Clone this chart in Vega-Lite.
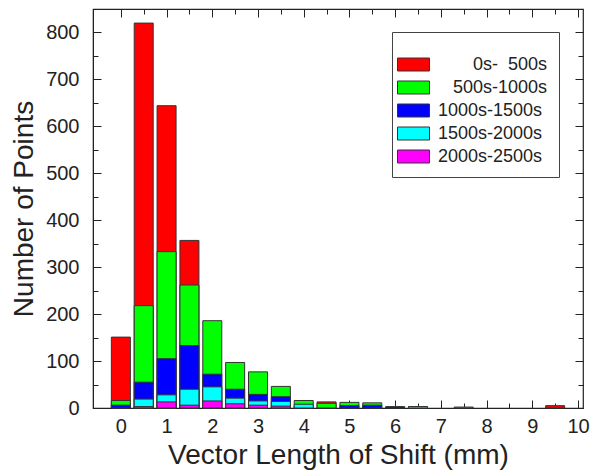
{
  "$schema": "https://vega.github.io/schema/vega-lite/v6.json",
  "autosize": {"type": "none"},
  "width": 490,
  "height": 399,
  "padding": {"left": 93, "top": 9, "right": 13, "bottom": 64},
  "background": "white",
  "config": {
    "view": {"stroke": "#222", "strokeWidth": 1.2},
    "font": "Liberation Sans",
    "axis": {"grid": false, "domainColor": "#222", "tickColor": "#222", "labelColor": "#222", "titleColor": "#222", "labelFont": "Liberation Sans", "titleFont": "Liberation Sans", "titleFontWeight": "normal", "labelFontSize": 20, "titleFontSize": 28, "zindex": 1}
  },
  "data": {
    "values": [
      {"x": 0, "p": "0s-500s", "n": 151},
      {"x": 0.5, "p": "0s-500s", "n": 820},
      {"x": 1, "p": "0s-500s", "n": 644},
      {"x": 1.5, "p": "0s-500s", "n": 357},
      {"x": 4.5, "p": "0s-500s", "n": 13},
      {"x": 9.5, "p": "0s-500s", "n": 5},
      {"x": 0, "p": "500s-1000s", "n": 16},
      {"x": 0.5, "p": "500s-1000s", "n": 218},
      {"x": 1, "p": "500s-1000s", "n": 333},
      {"x": 1.5, "p": "500s-1000s", "n": 262},
      {"x": 2, "p": "500s-1000s", "n": 186},
      {"x": 2.5, "p": "500s-1000s", "n": 97},
      {"x": 3, "p": "500s-1000s", "n": 77},
      {"x": 3.5, "p": "500s-1000s", "n": 46},
      {"x": 4, "p": "500s-1000s", "n": 16},
      {"x": 4.5, "p": "500s-1000s", "n": 10},
      {"x": 5, "p": "500s-1000s", "n": 12},
      {"x": 5.5, "p": "500s-1000s", "n": 11},
      {"x": 6.5, "p": "500s-1000s", "n": 3},
      {"x": 7.5, "p": "500s-1000s", "n": 2},
      {"x": 0, "p": "1000s-1500s", "n": 6},
      {"x": 0.5, "p": "1000s-1500s", "n": 55},
      {"x": 1, "p": "1000s-1500s", "n": 105},
      {"x": 1.5, "p": "1000s-1500s", "n": 133},
      {"x": 2, "p": "1000s-1500s", "n": 72},
      {"x": 2.5, "p": "1000s-1500s", "n": 40},
      {"x": 3, "p": "1000s-1500s", "n": 29},
      {"x": 3.5, "p": "1000s-1500s", "n": 24},
      {"x": 4, "p": "1000s-1500s", "n": 4},
      {"x": 5, "p": "1000s-1500s", "n": 5},
      {"x": 5.5, "p": "1000s-1500s", "n": 6},
      {"x": 6, "p": "1000s-1500s", "n": 3},
      {"x": 0.5, "p": "1500s-2000s", "n": 19},
      {"x": 1, "p": "1500s-2000s", "n": 28},
      {"x": 1.5, "p": "1500s-2000s", "n": 40},
      {"x": 2, "p": "1500s-2000s", "n": 45},
      {"x": 2.5, "p": "1500s-2000s", "n": 21},
      {"x": 3, "p": "1500s-2000s", "n": 15},
      {"x": 3.5, "p": "1500s-2000s", "n": 14},
      {"x": 4, "p": "1500s-2000s", "n": 8},
      {"x": 6.5, "p": "1500s-2000s", "n": 3},
      {"x": 0.5, "p": "2000s-2500s", "n": 3},
      {"x": 1, "p": "2000s-2500s", "n": 13},
      {"x": 1.5, "p": "2000s-2500s", "n": 6},
      {"x": 2, "p": "2000s-2500s", "n": 15},
      {"x": 2.5, "p": "2000s-2500s", "n": 9},
      {"x": 3, "p": "2000s-2500s", "n": 6},
      {"x": 3.5, "p": "2000s-2500s", "n": 4}
    ]
  },
  "layer": [
    {
      "mark": {"type": "bar", "size": 19, "stroke": "#333", "strokeWidth": 1},
      "encoding": {
        "x": {"field": "x", "type": "quantitative", "scale": {"domain": [-0.5, 10], "nice": false, "zero": false},
          "axis": {"title": "Vector Length of Shift (mm)", "values": [0,0.5,1,1.5,2,2.5,3,3.5,4,4.5,5,5.5,6,6.5,7,7.5,8,8.5,9,9.5,10],
            "labelExpr": "datum.value % 1 === 0 ? format(datum.value, 'd') : ''",
            "tickSize": {"condition": {"test": "datum.value % 1 === 0", "value": -8}, "value": -5},
            "labelPadding": 16, "titlePadding": 5, "labelFlush": false}},
        "y": {"field": "n", "type": "quantitative", "stack": null, "scale": {"domain": [0, 850], "nice": false},
          "axis": {"title": "Number of Points", "values": [0,50,100,150,200,250,300,350,400,450,500,550,600,650,700,750,800],
            "labelExpr": "datum.value % 100 === 0 ? datum.label : ''",
            "tickSize": {"condition": {"test": "datum.value % 100 === 0", "value": -8}, "value": -5},
            "labelPadding": 22, "titlePadding": 7, "labelFlush": false}},
        "color": {"field": "p", "type": "nominal",
          "scale": {"domain": ["0s-500s", "500s-1000s", "1000s-1500s", "1500s-2000s", "2000s-2500s"], "range": ["#ff0000", "#00ff00", "#0000ff", "#00ffff", "#ff00ff"]},
          "legend": {"orient": "none", "legendX": 299, "legendY": 23, "title": " ", "titleFontSize": 8, "titlePadding": 3,
            "padding": 11, "strokeColor": "#444", "fillColor": "white", "labelFontSize": 18, "labelColor": "#222", "labelFont": "Liberation Sans",
            "symbolType": "M-1.6,-0.65H1.6V0.65H-1.6Z", "symbolSize": 400, "symbolStrokeColor": "#333", "symbolStrokeWidth": 1, "symbolOpacity": 1,
            "rowPadding": 3, "labelOffset": 14, "labelLimit": 300,
            "labelExpr": "datum.label === '0s-500s' ? '\u200b\u00a0\u00a0\u00a0\u00a0\u00a0\u00a0\u00a00s-\u00a0\u00a0500s' : datum.label === '500s-1000s' ? '\u200b\u00a0\u00a0\u00a0500s-1000s' : datum.label"}}
      }
    },
    {
      "mark": {"type": "bar", "size": 19, "opacity": 0},
      "encoding": {
        "x": {"field": "x", "type": "quantitative",
          "axis": {"orient": "top", "title": null, "labels": false, "domain": false, "values": [0,0.5,1,1.5,2,2.5,3,3.5,4,4.5,5,5.5,6,6.5,7,7.5,8,8.5,9,9.5,10],
            "tickSize": {"condition": {"test": "datum.value % 1 === 0", "value": -8}, "value": -5}}},
        "y": {"field": "n", "type": "quantitative", "stack": null,
          "axis": {"orient": "right", "title": null, "labels": false, "domain": false, "values": [0,50,100,150,200,250,300,350,400,450,500,550,600,650,700,750,800],
            "tickSize": {"condition": {"test": "datum.value % 100 === 0", "value": -8}, "value": -5}}}
      }
    }
  ],
  "resolve": {"axis": {"x": "independent", "y": "independent"}}
}
